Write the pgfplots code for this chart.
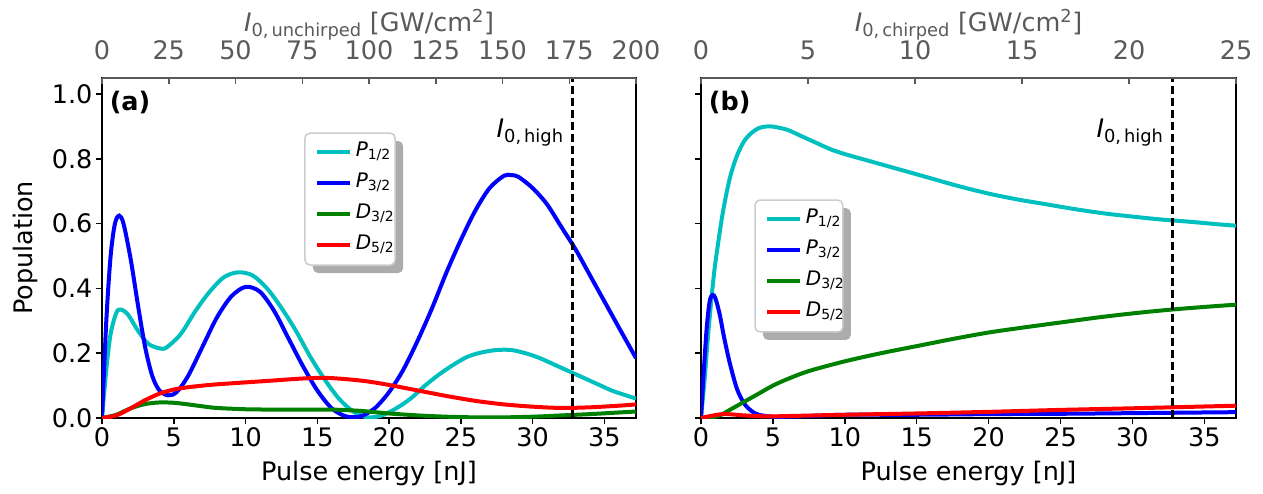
\documentclass[border=0pt]{standalone}
\usepackage{fontspec}
\setmainfont{DejaVu Sans}
\usepackage{pgfplots}
\pgfplotsset{compat=1.18}
\definecolor{cc}{rgb}{0,0.75,0.75}
\definecolor{topgray}{HTML}{5A5A5A}
\newcommand{\bigf}{\fontsize{25.5}{30}\selectfont}
\pgfplotsset{
 base/.style={
  scale only axis, width=534pt, height=340pt,
  xmin=0, xmax=37.2, ymin=0, ymax=1.05,
  xtick={0,5,10,15,20,25,30,35}, ytick={0,0.2,0.4,0.6,0.8,1.0},
  tick align=outside, xtick pos=bottom, ytick pos=left,
  major tick length=6pt,
  every tick/.style={black, line width=1.5pt},
  axis line style={line width=1.6pt},
  tick label style={font=\bigf},
  label style={font=\bigf},
  xlabel style={yshift=-7pt},
  ylabel style={yshift=7pt},
  /pgf/number format/assume math mode=true,
  yticklabel style={/pgf/number format/.cd, fixed, fixed zerofill, precision=1},
  xlabel={Pulse energy [nJ]},
  legend cell align=left,
  legend style={font=\fontsize{20}{24}\selectfont, draw=none, fill=none,
    inner sep=0pt, row sep=10pt, column sep=3pt,
    nodes={inner sep=0.5pt, text height=15pt, text depth=5pt}},
  legend image code/.code={\draw[line width=4pt] (0pt,0pt) -- (33pt,0pt);},
  every axis plot/.append style={line width=4pt, smooth, no marks},
 },
 topax/.style={
  scale only axis, width=534pt, height=340pt,
  ymin=0, ymax=1, hide y axis,
  axis x line*=top, tick align=inside,
  major tick length=6pt,
  every tick/.style={topgray, line width=1.5pt},
  axis line style={topgray, line width=1.6pt},
  xticklabel style={font=\bigf, text=topgray},
  xticklabel shift=15pt,
  xlabel style={font=\bigf, text=topgray, yshift=-7pt},
  /pgf/number format/assume math mode=true,
 },
 dashline/.style={black, line width=2.9pt, dash pattern=on 8pt off 4pt, sharp plot, forget plot},
}
\begin{document}
\begin{tikzpicture}
\path[use as bounding box] (0,0) rectangle (1263pt,493pt);
% ---------------- panel (a)
\begin{axis}[base, at={(102pt,75pt)}, anchor=south west, ylabel={Population},
  legend style={at={(0.399,0.815)}, anchor=north west}]
\addplot[cc] coordinates {(0,0) (0.3,0.15) (0.6,0.26) (1.0,0.325) (1.3,0.335) (1.8,0.32) (2.5,0.27) (3.2,0.23) (4.0,0.215) (4.5,0.218) (5.5,0.26) (6.5,0.33) (7.5,0.39) (8.5,0.435) (9.5,0.45) (10.5,0.44) (11.5,0.40) (12.5,0.34) (13.5,0.27) (14.5,0.19) (15.5,0.12) (16.5,0.06) (17.5,0.02) (18.5,0.002) (19.5,0.008) (20.5,0.03) (21.5,0.06) (22.5,0.10) (23.5,0.135) (24.5,0.165) (25.5,0.19) (26.5,0.203) (27.5,0.21) (28.5,0.21) (29.5,0.20) (30.5,0.185) (31.5,0.165) (32.5,0.145) (33.5,0.125) (34.5,0.105) (35.5,0.085) (36.5,0.07) (37.2,0.06)};
\addlegendentry{\textit{P}\textsubscript{1/2}}
\addplot[blue] coordinates {(0,0) (0.3,0.3) (0.6,0.5) (0.9,0.6) (1.2,0.625) (1.5,0.6) (2.0,0.49) (2.5,0.35) (3.0,0.22) (3.5,0.13) (4.0,0.085) (4.6,0.07) (5.2,0.08) (6.0,0.13) (7.0,0.22) (8.0,0.31) (9.0,0.375) (10.0,0.405) (11.0,0.39) (12.0,0.33) (13.0,0.245) (14.0,0.16) (15.0,0.085) (16.0,0.03) (17.0,0.005) (18.0,0.005) (19.0,0.03) (20.0,0.08) (21.0,0.15) (22.0,0.24) (23.0,0.34) (24.0,0.45) (25.0,0.55) (26.0,0.64) (27.0,0.71) (28.0,0.748) (28.5,0.75) (29.0,0.745) (30.0,0.71) (31.0,0.66) (32.0,0.59) (33.0,0.52) (34.0,0.44) (35.0,0.36) (36.0,0.28) (37.2,0.185)};
\addlegendentry{\textit{P}\textsubscript{3/2}}
\addplot[green!50!black] coordinates {(0,0) (1,0.01) (2,0.03) (3,0.043) (4,0.048) (5,0.047) (6,0.042) (7,0.036) (8,0.031) (10,0.027) (12,0.026) (14,0.026) (16,0.026) (18,0.022) (20,0.014) (22,0.008) (24,0.004) (26,0.002) (28,0.002) (30,0.004) (32,0.008) (34,0.012) (36,0.017) (37.2,0.02)};
\addlegendentry{\textit{D}\textsubscript{3/2}}
\addplot[red] coordinates {(0,0) (1,0.008) (2,0.03) (3,0.055) (4,0.075) (5,0.088) (6,0.095) (7,0.1) (8,0.104) (10,0.11) (12,0.116) (14,0.122) (15.5,0.124) (17,0.12) (18.5,0.113) (20,0.102) (22,0.085) (24,0.068) (26,0.053) (28,0.042) (30,0.035) (32,0.031) (34,0.033) (36,0.038) (37.2,0.042)};
\addlegendentry{\textit{D}\textsubscript{5/2}}
\addplot[dashline] coordinates {(32.8,0) (32.8,1.05)};
\fill[gray!65, rounded corners=5pt, xshift=8pt, yshift=-8pt] (rel axis cs:0.380,0.838) rectangle (rel axis cs:0.549,0.450);
\filldraw[fill=white, draw=gray!40, line width=1.5pt, rounded corners=5pt] (rel axis cs:0.380,0.838) rectangle (rel axis cs:0.549,0.450);
\node[anchor=east, font=\bigf] at (axis cs:32.4,0.88) {\textit{I}\textsubscript{0,\,high}};
\node[anchor=west, font=\bfseries\bigf] at (axis cs:0.3,0.975) {(a)};
\end{axis}
\begin{axis}[topax, at={(102pt,75pt)}, anchor=south west, xmin=0, xmax=200,
  xtick={0,25,50,75,100,125,150,175,200},
  xlabel={\textit{I}\textsubscript{0,\,unchirped} [GW/cm\textsuperscript{2}]}]
\end{axis}
% ---------------- panel (b)
\begin{axis}[base, at={(701pt,75pt)}, anchor=south west, width=535pt, yticklabels={},
  legend style={at={(0.12,0.618)}, anchor=north west}]
\addplot[cc] coordinates {(0,0) (0.25,0.12) (0.5,0.26) (0.75,0.38) (1.0,0.48) (1.5,0.63) (2.0,0.74) (2.5,0.81) (3.0,0.855) (3.5,0.88) (4.0,0.895) (4.5,0.9) (5.0,0.9) (6.0,0.89) (7.0,0.87) (8.0,0.85) (9.0,0.83) (10,0.815) (12,0.79) (14,0.765) (16,0.74) (18,0.715) (20,0.693) (22,0.675) (24,0.66) (26,0.645) (28,0.632) (30,0.622) (32,0.613) (34,0.606) (36,0.598) (37.2,0.594)};
\addlegendentry{\textit{P}\textsubscript{1/2}}
\addplot[blue] coordinates {(0,0) (0.2,0.15) (0.4,0.28) (0.6,0.36) (0.8,0.38) (1.0,0.37) (1.3,0.32) (1.6,0.25) (2.0,0.17) (2.5,0.09) (3.0,0.045) (3.5,0.022) (4.0,0.01) (5.0,0.004) (6,0.004) (8,0.007) (10,0.01) (15,0.01) (20,0.012) (25,0.013) (30,0.015) (37.2,0.018)};
\addlegendentry{\textit{P}\textsubscript{3/2}}
\addplot[green!50!black] coordinates {(0,0) (1,0.004) (1.5,0.012) (2,0.025) (3,0.05) (4,0.075) (5,0.1) (6,0.12) (7.5,0.145) (10,0.175) (12.5,0.2) (15,0.222) (17.5,0.244) (20,0.264) (22.5,0.28) (25,0.295) (27.5,0.31) (30,0.323) (32.5,0.334) (35,0.343) (37.2,0.35)};
\addlegendentry{\textit{D}\textsubscript{3/2}}
\addplot[red] coordinates {(0,0) (1.5,0.012) (3,0.008) (4.5,0.005) (6,0.006) (10,0.01) (15,0.014) (20,0.019) (25,0.025) (30,0.03) (37.2,0.038)};
\addlegendentry{\textit{D}\textsubscript{5/2}}
\addplot[dashline] coordinates {(32.8,0) (32.8,1.05)};
\fill[gray!65, rounded corners=5pt, xshift=8pt, yshift=-8pt] (rel axis cs:0.101,0.641) rectangle (rel axis cs:0.265,0.253);
\filldraw[fill=white, draw=gray!40, line width=1.5pt, rounded corners=5pt] (rel axis cs:0.101,0.641) rectangle (rel axis cs:0.265,0.253);
\node[anchor=east, font=\bigf] at (axis cs:32.4,0.88) {\textit{I}\textsubscript{0,\,high}};
\node[anchor=west, font=\bfseries\bigf] at (axis cs:0.3,0.975) {(b)};
\end{axis}
\begin{axis}[topax, at={(701pt,75pt)}, anchor=south west, width=535pt, xmin=0, xmax=25,
  xtick={0,5,10,15,20,25},
  xlabel={\textit{I}\textsubscript{0,\,chirped} [GW/cm\textsuperscript{2}]}]
\end{axis}
\end{tikzpicture}
\end{document}
